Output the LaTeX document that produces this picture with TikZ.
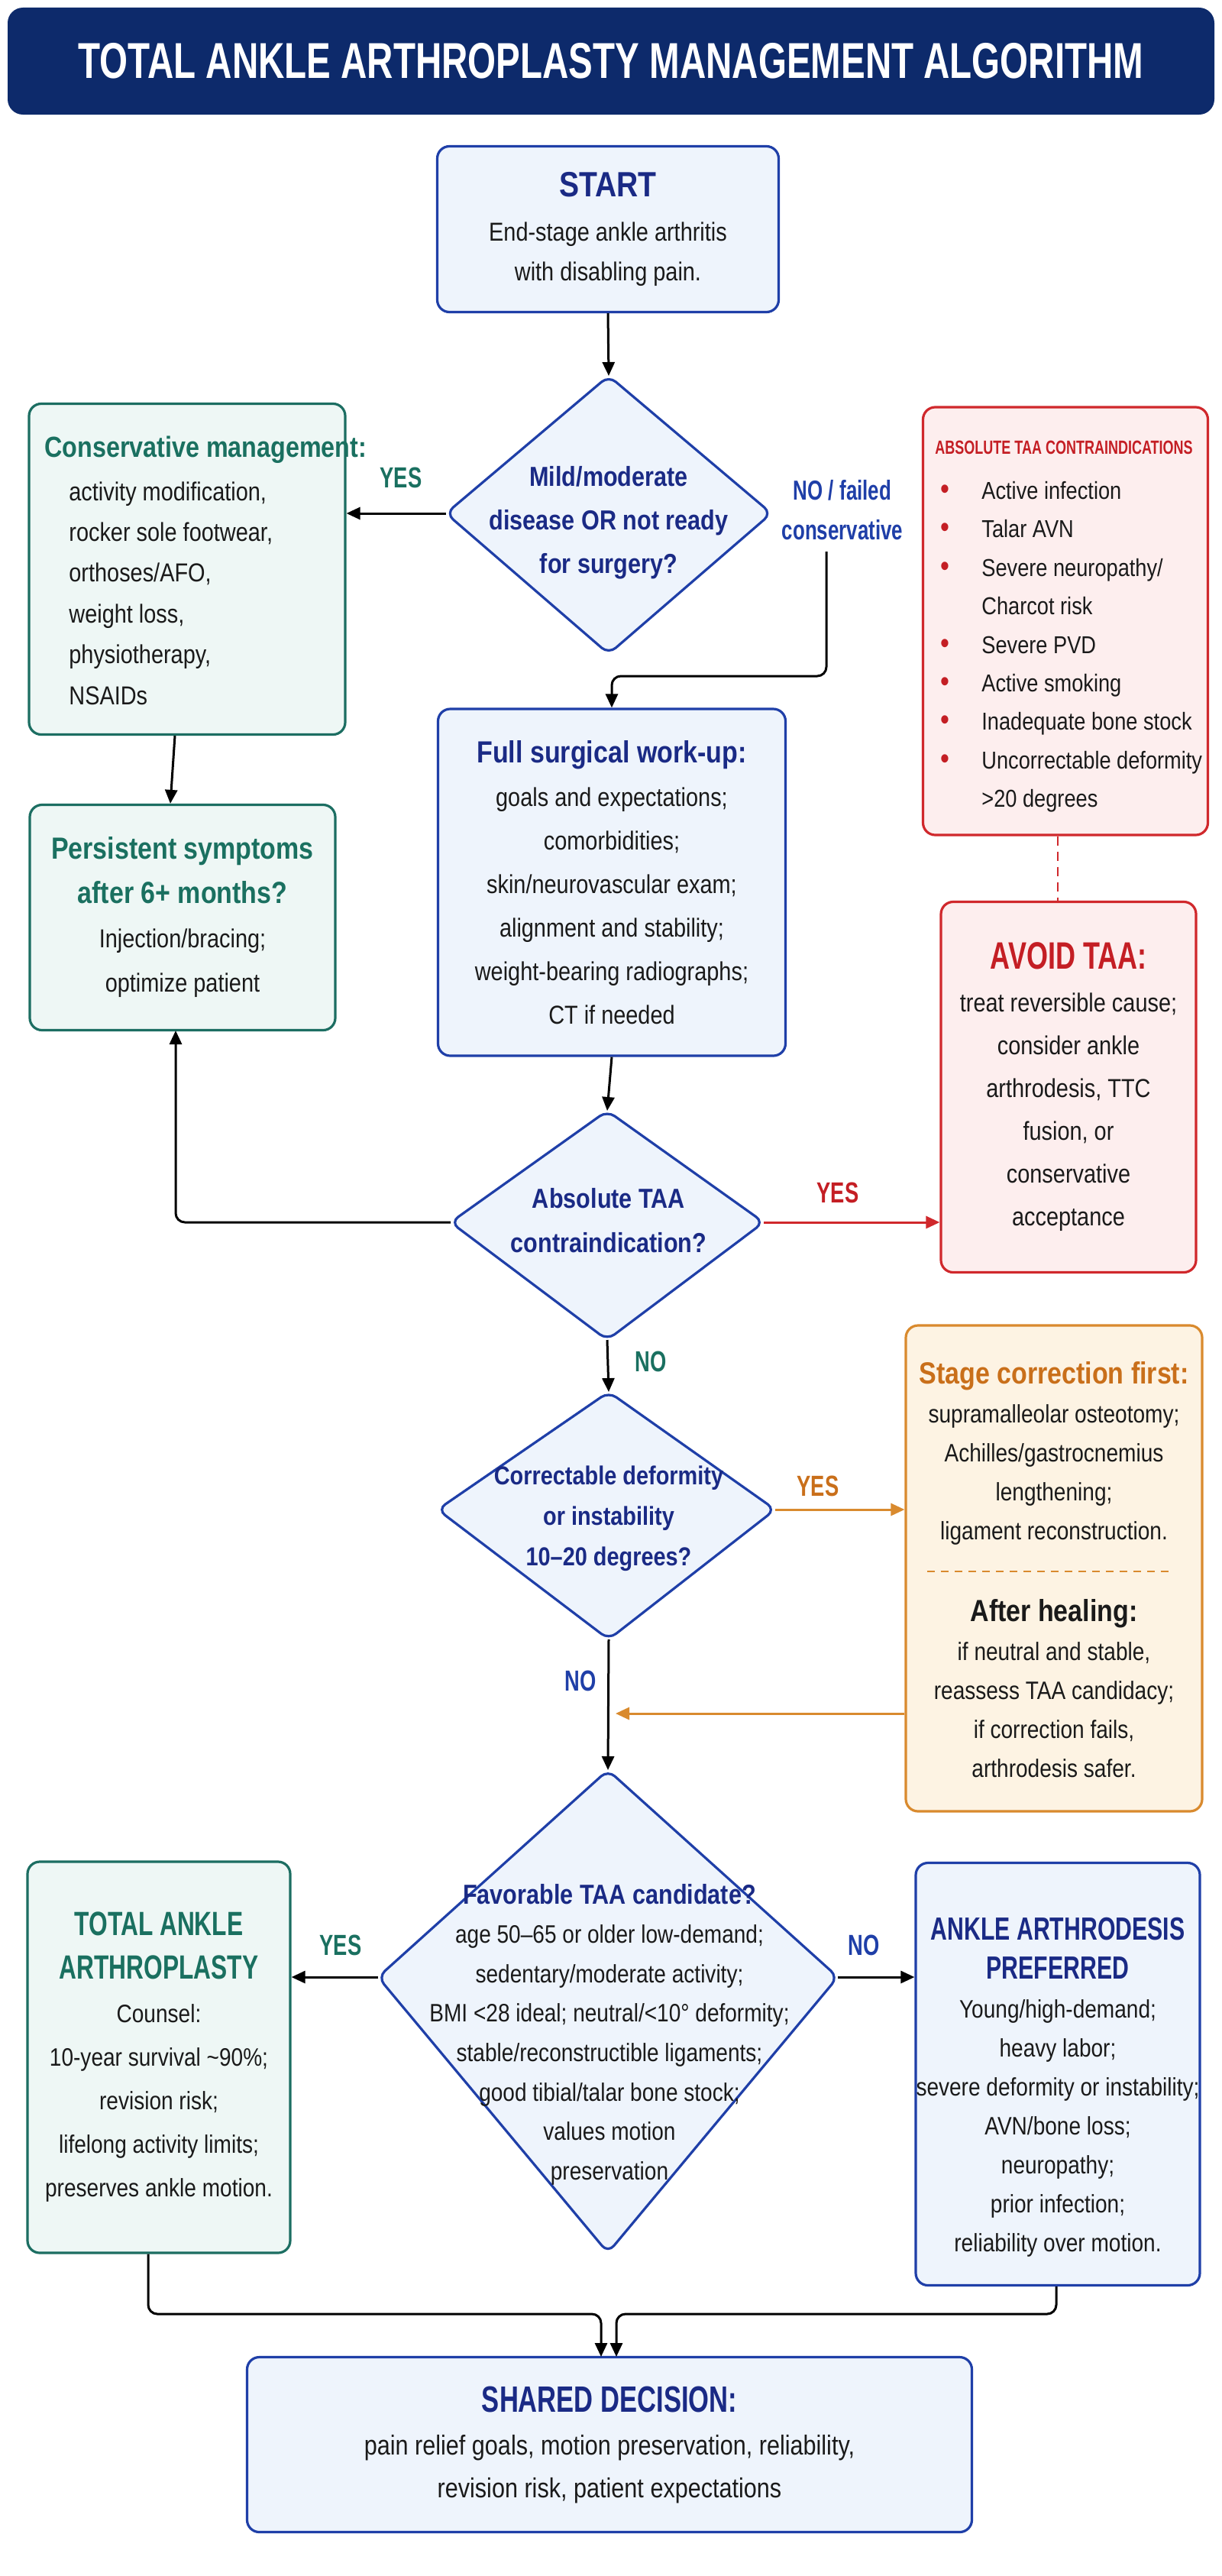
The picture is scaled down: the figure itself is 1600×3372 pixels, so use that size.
\documentclass[tikz,border=0pt]{standalone}
\usepackage{fontspec}
\setmainfont{Liberation Sans}[FakeStretch=0.85]
\newfontfamily\cond{Liberation Sans}[FakeStretch=0.72]
\usetikzlibrary{arrows.meta}
\definecolor{navy}{HTML}{0D2A6B}
\definecolor{bborder}{HTML}{1F3FA8}
\definecolor{bfill}{HTML}{EEF4FC}
\definecolor{dblue}{HTML}{1A2A85}
\definecolor{gborder}{HTML}{1C6E62}
\definecolor{gfill}{HTML}{EEF7F5}
\definecolor{gtext}{HTML}{1A7060}
\definecolor{rborder}{HTML}{D0282C}
\definecolor{rfill}{HTML}{FDEEEE}
\definecolor{rtext}{HTML}{C41E24}
\definecolor{oborder}{HTML}{D98A2E}
\definecolor{ofill}{HTML}{FDF3E3}
\definecolor{otext}{HTML}{C96F1A}
\definecolor{txt}{HTML}{1A1A1A}
\newcommand\bodyf{\fontsize{17}{26}\selectfont}
\newcommand\hd[2]{{\color{#1}\bfseries\fontsize{20}{26}\selectfont #2}}
\newcommand\hc[3]{{\color{#1}\cond\bfseries\fontsize{#2}{30}\selectfont #3}}
\newcommand\rb{\makebox[27pt][l]{\textcolor{rtext}{\fontsize{20}{20}\selectfont •}}}
\tikzset{
  box/.style={rounded corners=8pt, line width=1.6pt, align=center, inner sep=0pt, text=txt, font=\bodyf},
  bluebox/.style={box, draw=bborder, fill=bfill},
  greenbox/.style={box, draw=gborder, fill=gfill},
  redbox/.style={box, draw=rborder, fill=rfill},
  orangebox/.style={box, draw=oborder, fill=ofill},
  dia/.style={draw=bborder, fill=bfill, line width=1.6pt, rounded corners=6pt},
  txtn/.style={align=center, text=txt, font=\bodyf, inner sep=0pt},
  arr/.style={-{Triangle[length=9pt,width=8pt]}, line width=1.5pt, black, rounded corners=6pt},
  lbl/.style={font=\cond\bfseries\fontsize{19}{22}\selectfont, inner sep=0pt}
}
\begin{document}
\begin{tikzpicture}[x=0.5pt,y=-0.5pt]
\useasboundingbox (0,0) rectangle (1600,3372);
\fill[white] (0,0) rectangle (1600,3372);
% title
\node[fill=navy, rounded corners=10pt, minimum width=790pt, minimum height=70pt, text=white, font=\cond\bfseries\fontsize{33}{36}\selectfont] (title) at (800,80) {TOTAL ANKLE ARTHROPLASTY MANAGEMENT ALGORITHM};
% start
\node[bluebox, minimum width=223.5pt, minimum height=108.5pt] (start) at (796,300)
 {\hd{dblue}{\fontsize{23}{26}\selectfont START}\\[3pt]End-stage ankle arthritis\\with disabling pain.};
% diamond 1
\coordinate (d1t) at (797,492); \coordinate (d1b) at (797,856);
\coordinate (d1l) at (584,672); \coordinate (d1r) at (1010,672);
\draw[dia] (d1t) -- (d1r) -- (d1b) -- (d1l) -- cycle;
\node[txtn, text=dblue, font=\bfseries\fontsize{18}{28.5}\selectfont] (d1) at (797,684) {Mild/moderate\\disease OR not ready\\for surgery?};
% conservative
\node[greenbox, minimum width=207pt, minimum height=216.5pt] (cons) at (245,745) {};
\node[anchor=west, inner sep=0pt, text=gtext, font=\bfseries\fontsize{19}{26}\selectfont] (consh) at (58,589) {Conservative management:};
\node[anchor=north west, txtn, align=left, font=\fontsize{17}{26.7}\selectfont] (consl) at (90,630)
 {activity modification,\\rocker sole footwear,\\orthoses/AFO,\\weight loss,\\physiotherapy,\\NSAIDs};
% contraindications
\node[redbox, minimum width=186.5pt, minimum height=280pt] (contra) at (1395,813) {};
\node[anchor=west, inner sep=0pt, text=rtext, font=\cond\bfseries\fontsize{12.5}{14}\selectfont] (contrah) at (1224,586) {ABSOLUTE TAA CONTRAINDICATIONS};
\node[anchor=north west, txtn, align=left, font=\fontsize{16}{25.2}\selectfont] (contral) at (1231,630)
 {\rb Active infection\\\rb Talar AVN\\\rb Severe neuropathy/\\\hspace*{27pt}Charcot risk\\\rb Severe PVD\\\rb Active smoking\\\rb Inadequate bone stock\\\rb Uncorrectable deformity\\\hspace*{27pt}>20 degrees};
% workup
\node[bluebox, minimum width=227.5pt, minimum height=227pt, font=\fontsize{17}{28.5}\selectfont] (work) at (801,1155)
 {\hd{dblue}{Full surgical work-up:}\\goals and expectations;\\comorbidities;\\skin/neurovascular exam;\\alignment and stability;\\weight-bearing radiographs;\\CT if needed};
% persistent
\node[greenbox, minimum width=200pt, minimum height=147.5pt, font=\fontsize{17}{29}\selectfont] (pers) at (239,1201)
 {\hd{gtext}{Persistent symptoms}\\\hd{gtext}{after 6+ months?}\\Injection/bracing;\\optimize patient};
% avoid
\node[redbox, minimum width=167pt, minimum height=242.5pt, font=\fontsize{17}{28}\selectfont] (avoid) at (1399,1423)
 {\hc{rtext}{25}{AVOID TAA:}\\treat reversible cause;\\consider ankle\\arthrodesis, TTC\\fusion, or\\conservative\\acceptance};
% diamond 2
\coordinate (d2t) at (795,1454); \coordinate (d2b) at (795,1754);
\coordinate (d2l) at (590,1600); \coordinate (d2r) at (1000,1600);
\draw[dia] (d2t) -- (d2r) -- (d2b) -- (d2l) -- cycle;
\node[txtn, text=dblue, font=\bfseries\fontsize{18}{29}\selectfont] (d2) at (797,1598) {Absolute TAA\\contraindication?};
% diamond 3
\coordinate (d3t) at (797,1822); \coordinate (d3b) at (797,2146);
\coordinate (d3l) at (573,1976); \coordinate (d3r) at (1015,1976);
\draw[dia] (d3t) -- (d3r) -- (d3b) -- (d3l) -- cycle;
\node[txtn, text=dblue, font=\bfseries\fontsize{17}{26.5}\selectfont] (d3) at (797,1988) {Correctable deformity\\or instability\\10--20 degrees?};
% stage correction
\node[orangebox, minimum width=194pt, minimum height=318pt] (stage) at (1380,2053) {};
\node[txtn, font=\fontsize{16.5}{25.5}\selectfont] (stage1) at (1380,1902)
 {\hd{otext}{Stage correction first:}\\supramalleolar osteotomy;\\Achilles/gastrocnemius\\lengthening;\\ligament reconstruction.};
\draw[oborder, line width=1.3pt, dash pattern=on 5pt off 4pt] (1214,2057) -- (1531,2057);
\node[txtn, font=\fontsize{16.5}{25.5}\selectfont] (stage2) at (1380,2210)
 {\hd{txt}{After healing:}\\if neutral and stable,\\reassess TAA candidacy;\\if correction fails,\\arthrodesis safer.};
% diamond 4
\coordinate (d4t) at (796,2317); \coordinate (d4b) at (796,2949);
\coordinate (d4l) at (495,2588); \coordinate (d4r) at (1097,2588);
\draw[dia] (d4t) -- (d4r) -- (d4b) -- (d4l) -- cycle;
\node[txtn, font=\fontsize{16.5}{25.8}\selectfont] (d4) at (798,2663)
 {\hd{dblue}{\fontsize{18}{26}\selectfont Favorable TAA candidate?}\\age 50--65 or older low-demand;\\sedentary/moderate activity;\\BMI <28 ideal; neutral/<10° deformity;\\stable/reconstructible ligaments;\\good tibial/talar bone stock;\\values motion\\preservation};
% TAA
\node[greenbox, minimum width=172pt, minimum height=256pt, font=\fontsize{16.5}{28.5}\selectfont] (taa) at (208,2693)
 {\hc{gtext}{22}{TOTAL ANKLE}\\\hc{gtext}{22}{ARTHROPLASTY}\\Counsel:\\10-year survival \textasciitilde90\%;\\revision risk;\\lifelong activity limits;\\preserves ankle motion.};
% arthrodesis
\node[bluebox, minimum width=186pt, minimum height=276.5pt] (arth) at (1385,2715) {};
\node[txtn, font=\fontsize{16.5}{25.5}\selectfont] (arthl) at (1385,2732)
 {\hc{dblue}{21}{ANKLE ARTHRODESIS}\\\hc{dblue}{21}{PREFERRED}\\Young/high-demand;\\heavy labor;\\severe deformity or instability;\\AVN/bone loss;\\neuropathy;\\prior infection;\\reliability over motion.};
% shared
\node[bluebox, minimum width=474.5pt, minimum height=114.5pt, font=\fontsize{18}{28}\selectfont] (shared) at (798,3200)
 {\hc{dblue}{24}{SHARED DECISION:}\\pain relief goals, motion preservation, reliability,\\revision risk, patient expectations};
% connectors
\draw[arr] (start.south) -- (d1t);
\draw[arr] (d1l) -- (cons.east |- d1l);
\node[lbl, text=gtext] (l1) at (525,625) {YES};
\node[lbl, text=bborder, align=center, font=\cond\bfseries\fontsize{18}{26}\selectfont] (l2) at (1103,668) {NO / failed\\conservative};
\coordinate (c1) at (1082,722);
\draw[arr] (c1) -- (1082,885) -- (801,885) -- (work.north);
\draw[arr] ([xshift=-8pt]cons.south) -- ([xshift=-8pt]pers.north);
\draw[arr] (work.south) -- (d2t);
\draw[arr] (d2l) -- (230,1600) -- (230,1349);
\draw[arr, draw=rborder, -{Triangle[length=9pt,width=8pt,fill=rborder]}] (d2r) -- (avoid.west |- d2r);
\node[lbl, text=rtext] (l3) at (1097,1561) {YES};
\draw[rborder, line width=1.3pt, dash pattern=on 6pt off 4pt] ([xshift=-5pt]contra.south) -- ([xshift=-7pt]avoid.north);
\draw[arr] (d2b) -- (d3t);
\node[lbl, text=gtext] (l4) at (852,1782) {NO};
\draw[arr, draw=oborder, -{Triangle[length=9pt,width=8pt,fill=oborder]}] (d3r) -- (stage.west |- d3r);
\node[lbl, text=otext] (l5) at (1071,1945) {YES};
\draw[arr] (d3b) -- (d4t);
\node[lbl, text=bborder] (l6) at (760,2200) {NO};
\coordinate (m1) at (806,2243);
\draw[arr, draw=oborder, -{Triangle[length=9pt,width=8pt,fill=oborder]}] (stage.west |- m1) -- (m1);
\draw[arr] (d4l) -- (taa.east |- d4l);
\node[lbl, text=gtext] (l7) at (446,2546) {YES};
\draw[arr] (d4r) -- (arth.west |- d4r);
\node[lbl, text=bborder] (l8) at (1131,2546) {NO};
\draw[arr] ([xshift=-7pt]taa.south) -- (194,3029) -- (787,3029) -- (787,3085);
\draw[arr] ([xshift=-1pt]arth.south) -- (1383,3029) -- (807,3029) -- (807,3085);
\end{tikzpicture}
\end{document}
